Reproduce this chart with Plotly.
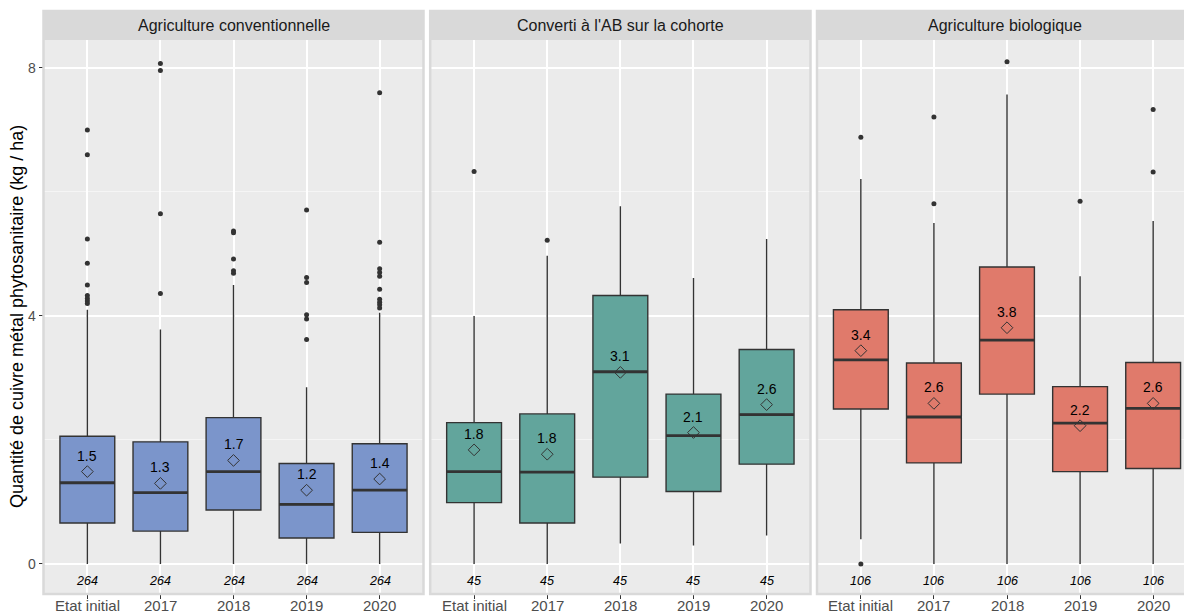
import plotly.graph_objects as go

categories = ["Etat initial", "2017", "2018", "2019", "2020"]
facets = ["Agriculture conventionnelle", "Converti à l'AB sur la cohorte", "Agriculture biologique"]

conv_q1 = [0.66, 0.53, 0.87, 0.42, 0.51]
conv_med = [1.31, 1.15, 1.49, 0.96, 1.19]
conv_q3 = [2.06, 1.97, 2.36, 1.62, 1.94]
conv_lo = [0.0, 0.0, 0.0, 0.0, 0.0]
conv_hi = [4.10, 3.78, 4.50, 2.85, 4.05]
conv_mean = [1.49, 1.30, 1.67, 1.19, 1.37]
conv_n = [264, 264, 264, 264, 264]
conv_out = [[7.0, 6.6, 5.24, 4.85, 4.5, 4.33, 4.28, 4.24, 4.2],
            [8.07, 7.96, 5.65, 4.36],
            [5.37, 5.34, 4.92, 4.73, 4.69],
            [5.71, 4.62, 4.54, 4.02, 3.95, 3.62],
            [7.6, 5.19, 4.76, 4.70, 4.64, 4.43, 4.27, 4.22, 4.18, 4.13]]

cv_q1 = [0.99, 0.66, 1.40, 1.17, 1.61]
cv_med = [1.49, 1.48, 3.10, 2.07, 2.41]
cv_q3 = [2.28, 2.42, 4.33, 2.74, 3.46]
cv_lo = [0.0, 0.0, 0.33, 0.30, 0.46]
cv_hi = [4.0, 4.97, 5.77, 4.61, 5.24]
cv_mean = [1.84, 1.77, 3.09, 2.12, 2.57]
cv_n = [45, 45, 45, 45, 45]
cv_out = [[6.33], [5.22], [], [], []]

bio_q1 = [2.50, 1.63, 2.74, 1.49, 1.54]
bio_med = [3.29, 2.37, 3.61, 2.27, 2.51]
bio_q3 = [4.10, 3.24, 4.79, 2.86, 3.25]
bio_lo = [0.40, 0.0, 0.0, 0.0, 0.0]
bio_hi = [6.21, 5.5, 7.57, 4.64, 5.53]
bio_mean = [3.44, 2.59, 3.81, 2.23, 2.59]
bio_n = [106, 106, 106, 106, 106]
bio_out = [[6.88, 0.0], [7.21, 5.81], [8.10], [5.85], [7.33, 6.32]]

colors = ["#7B95CB", "#62A59C", "#E07A6B"]

groups = [
    (conv_q1, conv_med, conv_q3, conv_lo, conv_hi, conv_mean, conv_n, conv_out),
    (cv_q1, cv_med, cv_q3, cv_lo, cv_hi, cv_mean, cv_n, cv_out),
    (bio_q1, bio_med, bio_q3, bio_lo, bio_hi, bio_mean, bio_n, bio_out),
]

FONT = "Arial, Liberation Sans, sans-serif"
# page has an 8px body margin: figure occupies page (8,8)-(1192,614)
W, H = 1184, 606
ML, MR, MT, MB = 35, 0, 3, 20
pw = W - ML - MR
ph = H - MT - MB
ytop = (594 - 40) / ph
xdomains = [[0.5 / pw, 380.5 / pw], [387.2 / pw, 767.5 / pw], [774.0 / pw, 1.0]]
unit_px = 380.0 / 5.2
xranges = [[-0.6, 4.6], [-0.6, 4.6], [-0.6, -0.6 + (pw - 774.0) / unit_px]]
yrange = [-0.484, 8.45]
BW = 0.75
xs = list(range(len(categories)))

fig = go.Figure()
annotations = []
shapes = []

for k, (q1, med, q3, lo, hi, mean, n, out) in enumerate(groups):
    xa = "x" if k == 0 else f"x{k+1}"
    ya = "y" if k == 0 else f"y{k+1}"
    fig.add_trace(go.Box(
        x=xs, q1=q1, median=med, q3=q3, lowerfence=lo, upperfence=hi,
        fillcolor=colors[k], line=dict(color="#333333", width=1.4),
        whiskerwidth=0, boxpoints=False, width=BW,
        xaxis=xa, yaxis=ya, showlegend=False, hoverinfo="skip"))
    mx, my = [], []
    for i, m in enumerate(med):
        mx += [i - BW / 2, i + BW / 2, None]
        my += [m, m, None]
    fig.add_trace(go.Scatter(x=mx, y=my, mode="lines",
                             line=dict(color="#333333", width=2.8),
                             xaxis=xa, yaxis=ya, showlegend=False, hoverinfo="skip"))
    ox, oy = [], []
    for i, vals in enumerate(out):
        for v in vals:
            ox.append(i)
            oy.append(v)
    fig.add_trace(go.Scatter(x=ox, y=oy, mode="markers",
                             marker=dict(color="#333333", size=5),
                             xaxis=xa, yaxis=ya, showlegend=False, hoverinfo="skip"))
    fig.add_trace(go.Scatter(x=xs, y=mean, mode="markers",
                             marker=dict(symbol="diamond-open", size=9,
                                         color="#333333", line=dict(width=1)),
                             xaxis=xa, yaxis=ya, showlegend=False, hoverinfo="skip"))
    for i in xs:
        annotations.append(dict(x=i, y=mean[i], xref=xa, yref=ya, yshift=16,
                                text=f"{mean[i]:.1f}", showarrow=False,
                                font=dict(family=FONT, size=14, color="#000000")))
        annotations.append(dict(x=i, y=-0.27, xref=xa, yref=ya,
                                text=f"<i>{n[i]}</i>", showarrow=False,
                                font=dict(family=FONT, size=12.5, color="#000000")))
        # category (x tick) labels
        annotations.append(dict(x=i, y=0, xref=xa, yref="paper", yanchor="top", yshift=-2,
                                borderpad=0,
                                text=categories[i], showarrow=False,
                                font=dict(family=FONT, size=15, color="#4D4D4D")))
    d = xdomains[k]
    shapes.append(dict(type="rect", xref="paper", yref="paper",
                       x0=d[0], x1=d[1], y0=ytop, y1=1.0,
                       fillcolor="#D9D9D9", line=dict(width=0), layer="below"))
    shapes.append(dict(type="rect", xref="paper", yref="paper",
                       x0=d[0], x1=d[1], y0=0, y1=1.0,
                       fillcolor="rgba(0,0,0,0)", line=dict(color="#D9D9D9", width=2.5),
                       layer="above"))
    annotations.append(dict(x=(d[0] + d[1]) / 2, y=(ytop + 1.0) / 2, xref="paper", yref="paper",
                            text=facets[k], showarrow=False, xanchor="center", yanchor="middle",
                            font=dict(family=FONT, size=16, color="#1A1A1A")))

annotations.append(dict(x=0, y=ytop / 2, xref="paper", yref="paper", xshift=-26,
                        text="Quantité de cuivre métal phytosanitaire (kg / ha)",
                        textangle=-90, showarrow=False, xanchor="center", yanchor="middle",
                        font=dict(family=FONT, size=18, color="#000000")))

layout = dict(
    width=W, height=H,
    margin=dict(l=ML, r=MR, t=MT, b=MB, autoexpand=False),
    paper_bgcolor="white", plot_bgcolor="#EBEBEB",
    font=dict(family=FONT),
    showlegend=False,
    annotations=annotations, shapes=shapes,
)
for k in range(3):
    xk = "xaxis" if k == 0 else f"xaxis{k+1}"
    yk = "yaxis" if k == 0 else f"yaxis{k+1}"
    layout[xk] = dict(domain=xdomains[k], range=xranges[k], anchor="y" if k == 0 else f"y{k+1}",
                      tickmode="array", tickvals=xs, ticktext=categories, showticklabels=False,
                      showgrid=True, gridcolor="white", gridwidth=1.6, zeroline=False,
                      ticks="outside", ticklen=4, tickcolor="#333333", tickwidth=1.2,
                      showline=False, fixedrange=True, automargin=False)
    ydict = dict(domain=[0, ytop], range=yrange, anchor="x" if k == 0 else f"x{k+1}",
                 tickmode="array", tickvals=[0, 4, 8], ticktext=["0", "4", "8"],
                 showgrid=True, gridcolor="white", gridwidth=1.6, zeroline=False,
                 minor=dict(tickvals=[2, 6], showgrid=True, gridcolor="#F5F5F5", gridwidth=0.8, ticks=""),
                 showline=False, fixedrange=True, automargin=False)
    if k == 0:
        ydict.update(ticks="outside", ticklen=4, tickcolor="#333333", tickwidth=1.2,
                     tickfont=dict(family=FONT, size=14, color="#4D4D4D"), showticklabels=True)
    else:
        ydict.update(ticks="", showticklabels=False, matches="y")
    layout[yk] = ydict

fig.update_layout(**layout)
fig.write_html("out.html")
